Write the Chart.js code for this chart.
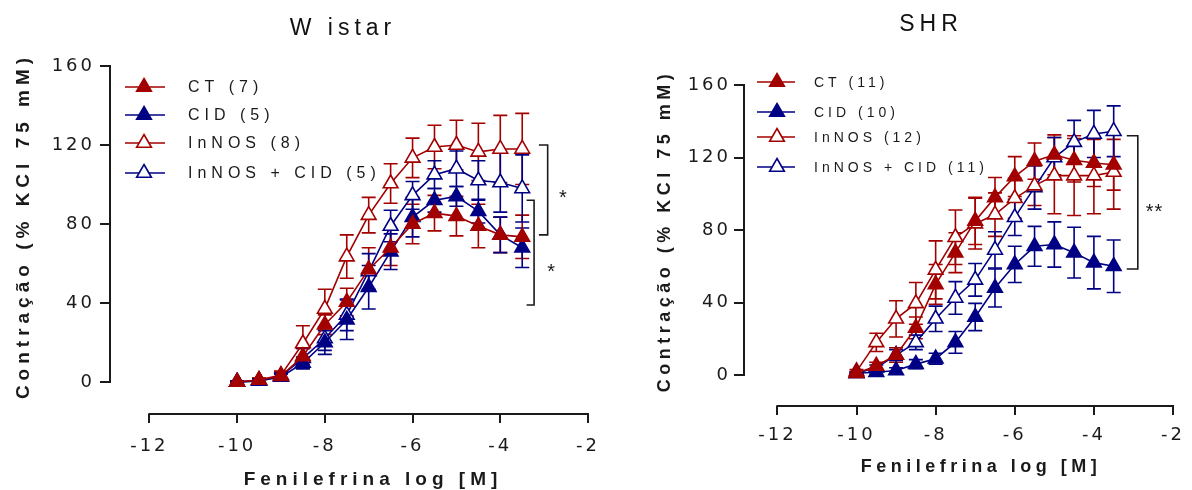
<!DOCTYPE html>
<html>
<head>
<meta charset="utf-8">
<script src="https://cdn.jsdelivr.net/npm/chart.js@4.4.0/dist/chart.umd.min.js"></script>
<style>
  html, body { margin: 0; padding: 0; background: #fff; }
  #wrap { position: relative; width: 1192px; height: 490px; overflow: hidden; }
  .painel { position: absolute; top: 0; height: 490px; }
  #p1 { left: 0; width: 610px; }
  #p2 { left: 600px; width: 592px; }
</style>
</head>
<body>
<div id="wrap">
  <div class="painel" id="p1"><canvas id="graficoWistar" width="610" height="490"></canvas></div>
  <div class="painel" id="p2"><canvas id="graficoSHR" width="592" height="490"></canvas></div>
</div>
<script>
// Doses de fenilefrina (log M)
const doses = [-10, -9.5, -9, -8.5, -8, -7.5, -7, -6.5, -6, -5.5, -5, -4.5, -4, -3.5];
const grupos = ['CT', 'CID', 'InNOS', 'InNOS + CID'];
const nWistar = [7, 5, 8, 5];
const nSHR = [11, 10, 12, 11];
const ticksY = [0, 40, 80, 120, 160];
const ticksX = [-12, -10, -8, -6, -4, -2];

// Wistar (media e EPM)
const wCT = [0, 1, 3, 13, 29, 40.5, 57, 68, 80, 85.5, 84, 79, 74.5, 73.5];
const wCTerr = [0.5, 1, 1.5, 4, 5, 7, 11, 9, 10, 9, 10, 11, 9, 11];
const wCID = [0, 0.5, 2.5, 9.6, 20, 31.5, 48, 66, 83.5, 92, 94, 86.5, 74.5, 68];
const wCIDerr = [0.5, 1, 1.5, 3, 6, 10, 11, 9, 10, 6, 5, 6, 9, 10];
const wInNOS = [0, 1, 3.5, 19.5, 37, 63.5, 84.5, 100.5, 113.5, 119, 120, 116.5, 118, 118];
const wInNOSerr = [0.5, 1, 2, 9, 10, 11, 9, 10, 10, 11, 12.5, 14.5, 17, 18];
const wInNOSCID = [0, 0.5, 3, 12, 22, 34, 56, 79, 94.5, 105, 108, 102, 101, 98];
const wInNOSCIDerr = [0.5, 1, 1.5, 5, 6, 8, 9, 8, 7, 7, 9, 10, 15, 17];

// SHR (media e EPM)
const sCT = [1, 5, 11, 26, 50, 67.5, 85, 98, 109.5, 118, 121.5, 118.5, 117, 116];
const sCTerr = [1, 2, 4, 6, 11, 11, 13, 11, 11, 10, 11, 12, 13, 14];
const sCID = [1, 1.5, 2.5, 6, 9, 18, 32, 48, 61, 71, 72, 67.5, 62, 60];
const sCIDerr = [0.5, 1, 1.5, 2.5, 3, 6, 7.5, 10.5, 10, 11, 12.5, 14, 14.5, 14.5];
const sInNOS = [2, 18, 31, 39.5, 58, 76, 83.5, 88.5, 97.5, 104.5, 110, 110, 110, 112];
const sInNOSerr = [1, 5, 10, 11.5, 16, 15, 14, 12, 11, 11, 21, 22, 21, 20.5];
const sInNOSCID = [1, 4, 11, 18, 31, 42.5, 52.5, 69, 87, 103.5, 120, 128.5, 133, 134.5];
const sInNOSCIDerr = [0.5, 1.5, 3, 4, 7, 9, 9, 10, 10, 12, 11, 12, 13, 14];

// Colchetes de significancia (valores nos eixos)
const colchetesWistar = [
  { de: 120, ate: 74.5, x: -2.92, xTraco: -3.12, rotulo: '*', xRotulo: -2.56, yRotulo: 93 },
  { de: 92, ate: 39, x: -3.23, xTraco: -3.4, rotulo: '*', xRotulo: -2.83, yRotulo: 55.5 }
];
const colchetesSHR = [
  { de: 132, ate: 58.5, x: -2.89, xTraco: -3.17, rotulo: '**', xRotulo: -2.47, yRotulo: 89.5 }
];

const VERMELHO = '#A30000';
const AZUL = '#000085';
const PRETO = '#1a1a1a';
const cores = [VERMELHO, AZUL, VERMELHO, AZUL];
const cheios = [true, true, false, false];

function montarDatasets(medias, erros, ns) {
  return medias.map((m, i) => ({
    label: `${grupos[i]} (${ns[i]})`,
    data: doses.map((d, j) => ({ x: d, y: m[j] })),
    erro: erros[i],
    borderColor: cores[i],
    backgroundColor: cores[i],
    borderWidth: 1.6,
    pointStyle: 'triangle',
    pointRadius: 8.5,
    pointHoverRadius: 8.5,
    pointBorderWidth: 1.6,
    pointBorderColor: cores[i],
    pointBackgroundColor: cheios[i] ? cores[i] : '#ffffff',
    tension: 0
  }));
}

// Barras de erro (EPM)
const barrasErro = {
  id: 'barrasErro',
  beforeDatasetsDraw(chart) {
    const { ctx, scales: { x, y } } = chart;
    chart.data.datasets.forEach((ds, i) => {
      ctx.save();
      ctx.strokeStyle = ds.borderColor;
      ctx.lineWidth = 1.6;
      ds.data.forEach((p, j) => {
        const e = ds.erro[j];
        const px = x.getPixelForValue(p.x);
        const yt = y.getPixelForValue(p.y + e);
        const yb = y.getPixelForValue(p.y - e);
        ctx.beginPath();
        ctx.moveTo(px, yt); ctx.lineTo(px, yb);
        ctx.moveTo(px - 7, yt); ctx.lineTo(px + 7, yt);
        ctx.moveTo(px - 7, yb); ctx.lineTo(px + 7, yb);
        ctx.stroke();
      });
      ctx.restore();
    });
  }
};

// Espacamento de letras dos ticks
const espacamento = {
  id: 'espacamento',
  beforeDraw(chart, args, opts) {
    chart.ctx.letterSpacing = opts.ticks || '0px';
  }
};

// Eixos, legenda, titulos e colchetes
const decoracao = {
  id: 'decoracao',
  afterDraw(chart, args, o) {
    const { ctx, chartArea, scales: { x, y } } = chart;
    ctx.save();
    ctx.strokeStyle = PRETO;
    ctx.lineWidth = 2;
    ctx.beginPath();
    ctx.moveTo(chartArea.left, y.getPixelForValue(0) + 1);
    ctx.lineTo(chartArea.left, y.getPixelForValue(160) - 1);
    ctx.moveTo(x.getPixelForValue(-12) - 1, chartArea.bottom);
    ctx.lineTo(x.getPixelForValue(-2) + 1, chartArea.bottom);
    ctx.stroke();

    // colchetes
    ctx.lineWidth = 1.6;
    ctx.fillStyle = PRETO;
    o.colchetes.forEach(c => {
      const bx = x.getPixelForValue(c.x), tx = x.getPixelForValue(c.xTraco);
      const y1 = y.getPixelForValue(c.de), y2 = y.getPixelForValue(c.ate);
      ctx.beginPath();
      ctx.moveTo(tx, y1); ctx.lineTo(bx, y1); ctx.lineTo(bx, y2); ctx.lineTo(tx, y2);
      ctx.stroke();
      ctx.letterSpacing = '1px';
      ctx.font = '20px "Liberation Sans", Arial, sans-serif';
      ctx.textAlign = 'center';
      ctx.textBaseline = 'middle';
      ctx.fillText(c.rotulo, x.getPixelForValue(c.xRotulo), y.getPixelForValue(c.yRotulo));
    });

    // legenda
    const L = o.legenda;
    chart.data.datasets.forEach((ds, i) => {
      const ly = L.ys[i];
      ctx.strokeStyle = ds.borderColor;
      ctx.lineWidth = 1.6;
      ctx.beginPath();
      ctx.moveTo(L.x1, ly); ctx.lineTo(L.x2, ly);
      ctx.stroke();
      ctx.fillStyle = ds.pointBackgroundColor;
      Chart.helpers.drawPoint(ctx, { pointStyle: 'triangle', radius: 8.5, borderWidth: 1.6, rotation: 0 }, L.xm, ly);
      ctx.fillStyle = PRETO;
      ctx.font = L.fonte;
      ctx.letterSpacing = L.ls;
      ctx.textAlign = 'left';
      ctx.textBaseline = 'middle';
      ctx.fillText(ds.label, L.xt, ly + 1);
    });

    // titulo do painel
    ctx.fillStyle = '#111';
    ctx.font = '23px "Liberation Sans", Arial, sans-serif';
    ctx.letterSpacing = '5px';
    ctx.textAlign = 'center';
    ctx.textBaseline = 'middle';
    ctx.fillText(o.titulo.texto, o.titulo.x, o.titulo.y);

    // titulos dos eixos
    ctx.fillStyle = PRETO;
    ctx.font = o.fonteEixo;
    ctx.letterSpacing = o.lsEixo;
    ctx.fillText('Fenilefrina log [M]', o.tituloX.x, o.tituloX.y);
    ctx.translate(o.tituloY.x, o.tituloY.y);
    ctx.rotate(-Math.PI / 2);
    ctx.fillText('Contração (% KCl 75 mM)', 0, 0);
    ctx.restore();
  }
};

function criarGrafico(id, datasets, geo, deco) {
  return new Chart(document.getElementById(id), {
    type: 'line',
    data: { datasets },
    plugins: [espacamento, barrasErro, decoracao],
    options: {
      responsive: false,
      animation: false,
      events: [],
      layout: { padding: { top: geo.topo, right: geo.direita, left: 0, bottom: 0 } },
      scales: {
        x: {
          type: 'linear',
          min: geo.xMin, max: -2,
          afterBuildTicks: s => { s.ticks = ticksX.map(v => ({ value: v })); },
          afterFit: s => { s.height = geo.alturaX; },
          border: { display: false },
          grid: { drawOnChartArea: false, drawTicks: true, tickLength: 9, color: PRETO, lineWidth: 2 },
          ticks: {
            autoSkip: false, maxRotation: 0, padding: geo.padX, color: PRETO,
            font: { family: '"DejaVu Sans", sans-serif', size: 18 },
            callback: v => String(v)
          }
        },
        y: {
          type: 'linear',
          min: geo.yMin, max: 160,
          afterBuildTicks: s => { s.ticks = ticksY.map(v => ({ value: v })); },
          afterFit: s => { s.width = geo.larguraY; },
          border: { display: false },
          grid: { drawOnChartArea: false, drawTicks: true, tickLength: 10, color: PRETO, lineWidth: 2 },
          ticks: {
            autoSkip: false, padding: geo.padY, color: PRETO,
            font: { family: '"DejaVu Sans", sans-serif', size: 18 },
            callback: v => String(v)
          }
        }
      },
      plugins: {
        legend: { display: false },
        tooltip: { enabled: false },
        espacamento: { ticks: '3px' },
        decoracao: deco
      }
    }
  });
}

criarGrafico('graficoWistar',
  montarDatasets([wCT, wCID, wInNOS, wInNOSCID], [wCTerr, wCIDerr, wInNOSerr, wInNOSCIDerr], nWistar),
  { topo: 66, direita: 14, larguraY: 110, alturaX: 76, xMin: -12.897, yMin: -16.2, padX: 13, padY: 5 },
  {
    colchetes: colchetesWistar,
    legenda: { ys: [87, 115, 143, 173], x1: 125, x2: 165, xm: 144, xt: 188,
               fonte: '16px "Liberation Sans", Arial, sans-serif', ls: '5px' },
    titulo: { texto: 'W istar', x: 343, y: 29 },
    tituloX: { x: 373, y: 480 },
    tituloY: { x: 24, y: 226 },
    fonteEixo: 'bold 19px "Liberation Sans", Arial, sans-serif',
    lsEixo: '5px'
  });

criarGrafico('graficoSHR',
  montarDatasets([sCT, sCID, sInNOS, sInNOSCID], [sCTerr, sCIDerr, sInNOSerr, sInNOSCIDerr], nSHR),
  { topo: 85, direita: 11, larguraY: 144, alturaX: 84, xMin: -12.844, yMin: -17.1, padX: 10, padY: 3 },
  {
    colchetes: colchetesSHR,
    legenda: { ys: [82, 112, 137, 167], x1: 157, x2: 195, xm: 177, xt: 214,
               fonte: '14px "Liberation Sans", Arial, sans-serif', ls: '4px' },
    titulo: { texto: 'SHR', x: 331, y: 25 },
    tituloX: { x: 381, y: 467 },
    tituloY: { x: 65, y: 231 },
    fonteEixo: 'bold 18px "Liberation Sans", Arial, sans-serif',
    lsEixo: '4.5px'
  });
</script>
</body>
</html>
